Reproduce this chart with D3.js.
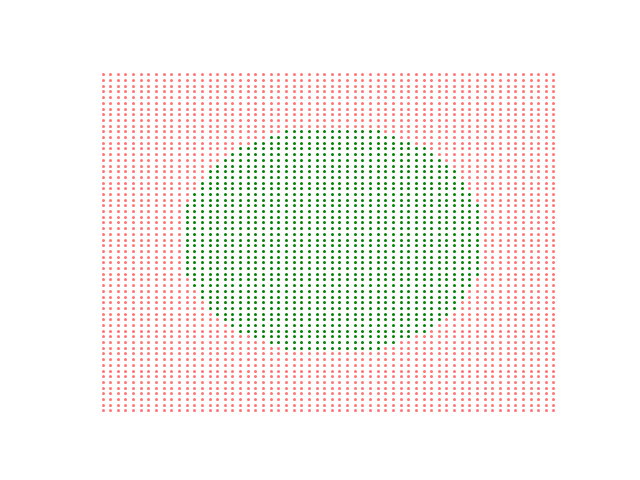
<!DOCTYPE html>
<html>
<head>
<meta charset="utf-8">
<script src="https://cdn.jsdelivr.net/npm/d3@7"></script>
<style>
  html, body { margin: 0; padding: 0; background: #ffffff; }
  svg { display: block; }
</style>
</head>
<body>
<div id="chart"></div>
<script>
// Grid coordinates (x and y share the same grid values)
const gridX = [-3.0,-2.9,-2.8,-2.7,-2.6,-2.5,-2.4,-2.3,-2.2,-2.1,-2.0,-1.9,-1.8,-1.7,-1.6,-1.5,-1.4,-1.3,-1.2,-1.1,
               -1.0,-0.9,-0.8,-0.7,-0.6,-0.5,-0.4,-0.3,-0.2,-0.1,0.0,0.1,0.2,0.3,0.4,0.5,0.6,0.7,0.8,0.9,
               1.0,1.1,1.2,1.3,1.4,1.5,1.6,1.7,1.8,1.9,2.0,2.1,2.2,2.3,2.4,2.5,2.6,2.7,2.8,2.9];
const gridY = [-3.0,-2.9,-2.8,-2.7,-2.6,-2.5,-2.4,-2.3,-2.2,-2.1,-2.0,-1.9,-1.8,-1.7,-1.6,-1.5,-1.4,-1.3,-1.2,-1.1,
               -1.0,-0.9,-0.8,-0.7,-0.6,-0.5,-0.4,-0.3,-0.2,-0.1,0.0,0.1,0.2,0.3,0.4,0.5,0.6,0.7,0.8,0.9,
               1.0,1.1,1.2,1.3,1.4,1.5,1.6,1.7,1.8,1.9,2.0,2.1,2.2,2.3,2.4,2.5,2.6,2.7,2.8,2.9];

// Green (inside) region: for each row y, green where |x| <= half-width
const greenRowY = [1.9,1.8,1.7,1.6,1.5,1.4,1.3,1.2,1.1,1.0,0.9,0.8,0.7,0.6,0.5,0.4,0.3,0.2,0.1,0.0,
                   -0.1,-0.2,-0.3,-0.4,-0.5,-0.6,-0.7,-0.8,-0.9,-1.0,-1.1,-1.2,-1.3,-1.4,-1.5,-1.6,-1.7,-1.8,-1.9];
const greenHalfWidth = [0.6,0.8,1.0,1.2,1.3,1.4,1.5,1.6,1.6,1.7,1.7,1.8,1.8,1.9,1.9,1.9,1.9,1.9,1.9,1.9,
                        1.9,1.9,1.9,1.9,1.9,1.9,1.8,1.8,1.7,1.7,1.6,1.6,1.5,1.4,1.3,1.2,1.0,0.8,0.6];

const W = 640, H = 480;
const plotLeft = 80, plotRight = 576, plotTop = 57.6, plotBottom = 427.2;

const svg = d3.select("#chart").append("svg")
  .attr("width", W).attr("height", H)
  .style("background", "#ffffff");

const xMin = d3.min(gridX), xMax = d3.max(gridX);
const yMin = d3.min(gridY), yMax = d3.max(gridY);
const xPad = (xMax - xMin) * 0.05, yPad = (yMax - yMin) * 0.05;

const x = d3.scaleLinear().domain([xMin - xPad, xMax + xPad]).range([plotLeft, plotRight]);
const y = d3.scaleLinear().domain([yMin - yPad, yMax + yPad]).range([plotBottom, plotTop]);

const halfByY = new Map(greenRowY.map((v, i) => [v.toFixed(1), greenHalfWidth[i]]));

const points = [];
gridY.forEach(yv => {
  gridX.forEach(xv => {
    const hw = halfByY.get(yv.toFixed(1));
    const inside = hw !== undefined && Math.abs(xv) <= hw + 1e-9;
    points.push({ x: xv, y: yv, inside });
  });
});

const snap = v => Math.round(v) + 0.5;

svg.append("g").selectAll("circle")
  .data(points.filter(d => !d.inside))
  .join("circle")
  .attr("cx", d => snap(x(d.x)))
  .attr("cy", d => snap(y(d.y)))
  .attr("r", 1.5)
  .attr("fill", "#ff0000")
  .attr("fill-opacity", 0.55);

svg.append("g").selectAll("circle")
  .data(points.filter(d => d.inside))
  .join("circle")
  .attr("cx", d => snap(x(d.x)))
  .attr("cy", d => snap(y(d.y)))
  .attr("r", 1.5)
  .attr("fill", "#008000");
</script>
</body>
</html>
